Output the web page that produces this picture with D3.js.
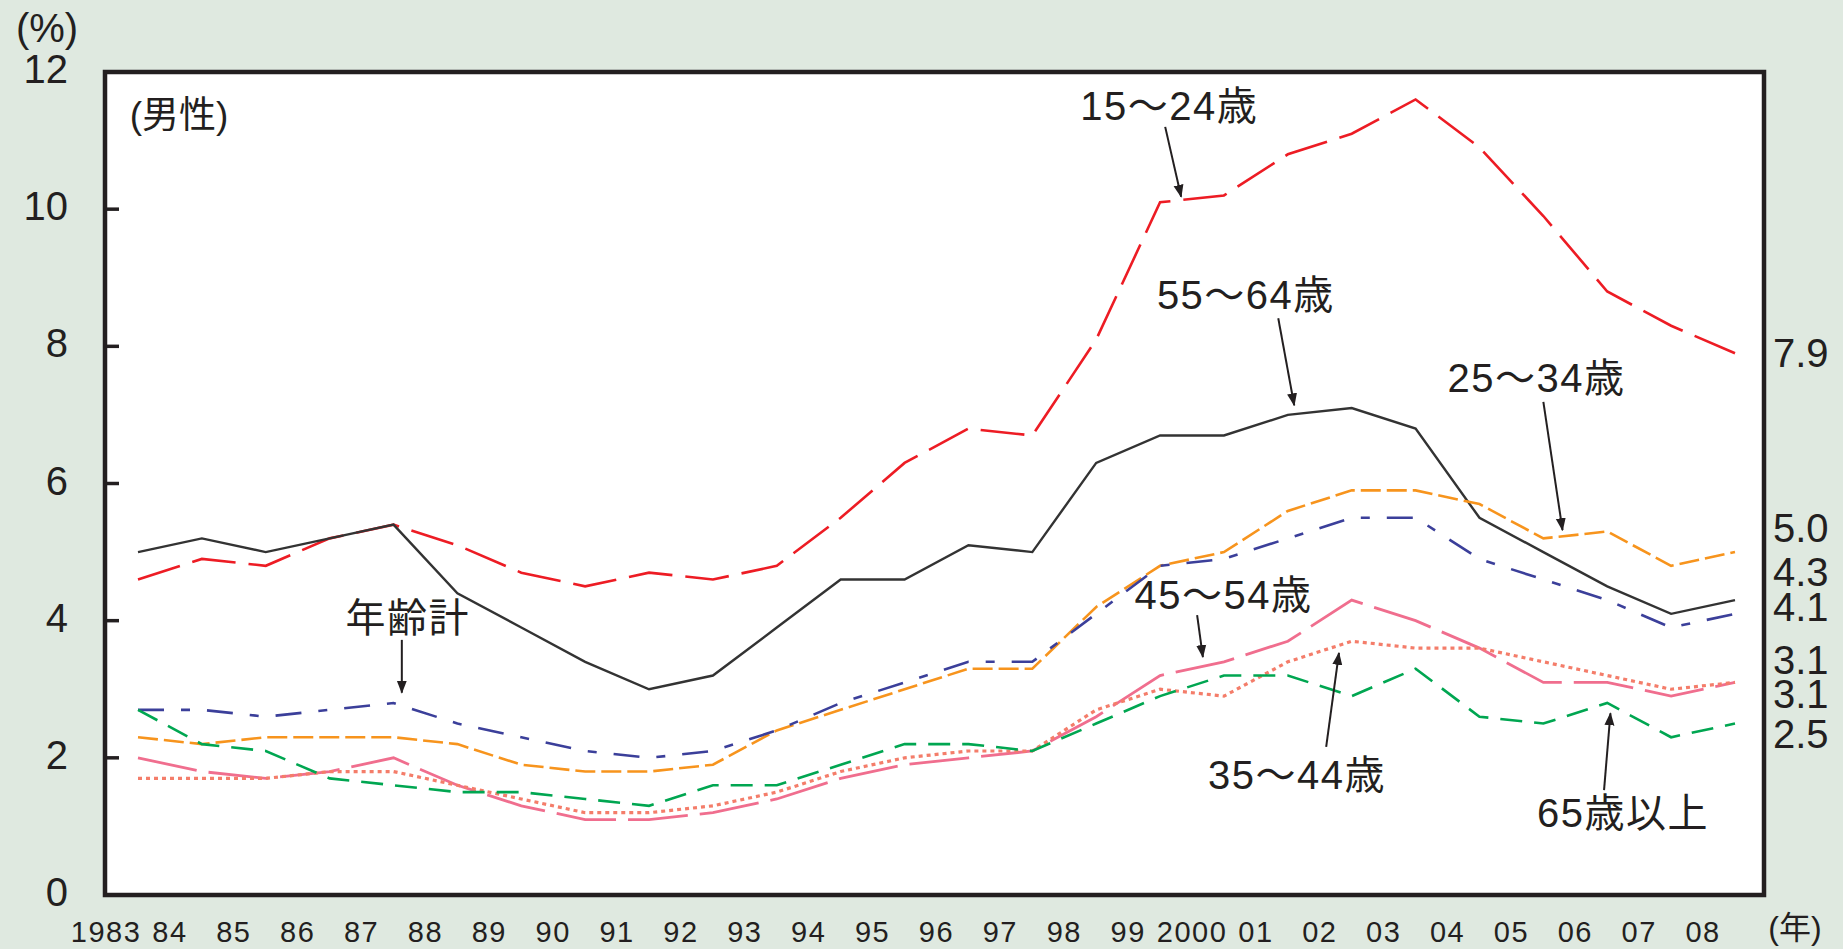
<!DOCTYPE html>
<html>
<head>
<meta charset="utf-8">
<script src="https://cdn.jsdelivr.net/npm/d3@7/dist/d3.min.js"></script>
<style>
    body { margin: 0; background: #dfe9e0; }
    svg { display: block; }
    text { font-family: "Liberation Sans", Arial, "Noto Sans CJK JP", sans-serif; fill: #231f20; }
</style>
</head>
<body>
<svg id="chart" width="1843" height="949"></svg>
<script>
// categories
const years = [1983, 1984, 1985, 1986, 1987, 1988, 1989, 1990, 1991, 1992, 1993, 1994, 1995,
    1996, 1997, 1998, 1999, 2000, 2001, 2002, 2003, 2004, 2005, 2006, 2007, 2008];
const yearLabels = ['1983', '84', '85', '86', '87', '88', '89', '90', '91', '92', '93', '94', '95',
    '96', '97', '98', '99', '2000', '01', '02', '03', '04', '05', '06', '07', '08'];
const yTicks = [0, 2, 4, 6, 8, 10, 12];

// male unemployment rate by age (%)
const age15to24 = [4.6, 4.9, 4.8, 5.2, 5.4, 5.1, 4.7, 4.5, 4.7, 4.6, 4.8, 5.5, 6.3,
    6.8, 6.7, 8.1, 10.1, 10.2, 10.8, 11.1, 11.6, 10.9, 9.9, 8.8, 8.3, 7.9];
const age25to34 = [2.3, 2.2, 2.3, 2.3, 2.3, 2.2, 1.9, 1.8, 1.8, 1.9, 2.4, 2.7, 3.0,
    3.3, 3.3, 4.2, 4.8, 5.0, 5.6, 5.9, 5.9, 5.7, 5.2, 5.3, 4.8, 5.0];
const age35to44 = [1.7, 1.7, 1.7, 1.8, 1.8, 1.6, 1.4, 1.2, 1.2, 1.3, 1.5, 1.8, 2.0,
    2.1, 2.1, 2.7, 3.0, 2.9, 3.4, 3.7, 3.6, 3.6, 3.4, 3.2, 3.0, 3.1];
const age45to54 = [2.0, 1.8, 1.7, 1.8, 2.0, 1.6, 1.3, 1.1, 1.1, 1.2, 1.4, 1.7, 1.9,
    2.0, 2.1, 2.6, 3.2, 3.4, 3.7, 4.3, 4.0, 3.6, 3.1, 3.1, 2.9, 3.1];
const age55to64 = [5.0, 5.2, 5.0, 5.2, 5.4, 4.4, 3.9, 3.4, 3.0, 3.2, 3.9, 4.6, 4.6,
    5.1, 5.0, 6.3, 6.7, 6.7, 7.0, 7.1, 6.8, 5.5, 5.0, 4.5, 4.1, 4.3];
const age65plus = [2.7, 2.2, 2.1, 1.7, 1.6, 1.5, 1.5, 1.4, 1.3, 1.6, 1.6, 1.9, 2.2,
    2.2, 2.1, 2.5, 2.9, 3.2, 3.2, 2.9, 3.3, 2.6, 2.5, 2.8, 2.3, 2.5];
const ageTotal = [2.7, 2.7, 2.6, 2.7, 2.8, 2.5, 2.3, 2.1, 2.0, 2.1, 2.4, 2.8, 3.1,
    3.4, 3.4, 4.1, 4.8, 4.9, 5.2, 5.5, 5.5, 4.9, 4.6, 4.3, 3.9, 4.1];

const series = [
    {values: age15to24, color: '#ed1c24', dash: '44 13', width: 2.6},
    {values: age55to64, color: '#333333', dash: null, width: 2.4},
    {values: age25to34, color: '#f7941d', dash: '20 6', width: 2.6},
    {values: ageTotal, color: '#3b3f9a', dash: '26 17 9 17', width: 2.6},
    {values: age45to54, color: '#f06e8e', dash: '60 12', width: 2.8},
    {values: age35to44, color: '#f47d6a', dash: '4 4', width: 3.2},
    {values: age65plus, color: '#00a651', dash: '22 12', width: 2.6}
];

// end-of-line value labels (nudged apart like the original)
const endLabels = [
    {values: age15to24, dy: 0},
    {values: age25to34, dy: -24},
    {values: age55to64, dy: -28},
    {values: ageTotal, dy: -7},
    {values: age45to54, dy: -22},
    {values: age35to44, dy: 12},
    {values: age65plus, dy: 10}
];

// callouts, in data coordinates [year, %]
const notes = [
    {text: '15～24歳', at: [1997.75, 11.5], from: [1999.08, 11.2], to: [1999.33, 10.18]},
    {text: '55～64歳', at: [1998.95, 8.75], from: [2000.85, 8.41], to: [2001.1, 7.14]},
    {text: '25～34歳', at: [2003.5, 7.54], from: [2005.0, 7.19], to: [2005.3, 5.32]},
    {text: '45～54歳', at: [1998.6, 4.37], from: [1999.58, 4.08], to: [1999.67, 3.47]},
    {text: '35～44歳', at: [1999.75, 1.75], from: [2001.6, 2.16], to: [2001.8, 3.53]},
    {text: '65歳以上', at: [2004.9, 1.2], from: [2005.95, 1.53], to: [2006.05, 2.65]},
    {text: '年齢計', at: [1986.25, 4.04], from: [1987.13, 3.72], to: [1987.13, 2.95]}
];

const box = {left: 105, top: 72, right: 1764, bottom: 895};

const x = d3.scaleLinear().domain([1983, 2008]).range([138, 1735]);
const y = d3.scaleLinear().domain([0, 12]).range([box.bottom, box.top]);

const svg = d3.select('#chart');

svg.append('defs').append('marker')
    .attr('id', 'arrow')
    .attr('markerUnits', 'userSpaceOnUse')
    .attr('viewBox', '0 -6 13 12')
    .attr('refX', 12)
    .attr('refY', 0)
    .attr('markerWidth', 13)
    .attr('markerHeight', 12)
    .attr('orient', 'auto')
    .append('path')
    .attr('d', 'M0,-5L13,0L0,5Z')
    .attr('fill', '#231f20');

// plot area
svg.append('rect')
    .attr('x', box.left)
    .attr('y', box.top)
    .attr('width', box.right - box.left)
    .attr('height', box.bottom - box.top)
    .attr('fill', '#fff');

// y ticks (inside) and labels
svg.append('g')
    .selectAll('line')
    .data(yTicks.filter(d => d > 0 && d < 12))
    .join('line')
    .attr('x1', box.left)
    .attr('x2', box.left + 14)
    .attr('y1', d => y(d))
    .attr('y2', d => y(d))
    .attr('stroke', '#231f20')
    .attr('stroke-width', 3.5);

svg.append('g')
    .selectAll('text')
    .data(yTicks)
    .join('text')
    .attr('x', 68)
    .attr('y', d => y(d) - 3)
    .attr('text-anchor', 'end')
    .attr('dominant-baseline', 'central')
    .attr('font-size', 40)
    .text(d => d);

svg.append('text')
    .attr('x', 47)
    .attr('y', 28)
    .attr('text-anchor', 'middle')
    .attr('dominant-baseline', 'central')
    .attr('font-size', 40)
    .text('(%)');

svg.append('text')
    .attr('x', x(1982.87))
    .attr('y', y(11.37))
    .attr('dominant-baseline', 'central')
    .attr('font-size', 37)
    .text('(男性)');

// x labels sit half a year left of the data points
svg.append('g')
    .selectAll('text')
    .data(years)
    .join('text')
    .attr('x', d => x(d - 0.5))
    .attr('y', 942)
    .attr('text-anchor', 'middle')
    .attr('font-size', 29)
    .attr('letter-spacing', 1.5)
    .text((d, i) => yearLabels[i]);

svg.append('text')
    .attr('x', 1795)
    .attr('y', 939)
    .attr('text-anchor', 'middle')
    .attr('font-size', 32)
    .text('(年)');

// lines
const line = d3.line()
    .x((d, i) => x(years[i]))
    .y(d => y(d));

svg.append('g')
    .selectAll('path')
    .data(series)
    .join('path')
    .attr('d', d => line(d.values))
    .attr('fill', 'none')
    .attr('stroke', d => d.color)
    .attr('stroke-width', d => d.width)
    .attr('stroke-dasharray', d => d.dash);

// frame on top
svg.append('rect')
    .attr('x', box.left)
    .attr('y', box.top)
    .attr('width', box.right - box.left)
    .attr('height', box.bottom - box.top)
    .attr('fill', 'none')
    .attr('stroke', '#231f20')
    .attr('stroke-width', 4.5);

// callouts
let noteG = svg.append('g');
noteG.selectAll('line')
    .data(notes)
    .join('line')
    .attr('x1', d => x(d.from[0]))
    .attr('y1', d => y(d.from[1]))
    .attr('x2', d => x(d.to[0]))
    .attr('y2', d => y(d.to[1]))
    .attr('stroke', '#231f20')
    .attr('stroke-width', 2)
    .attr('marker-end', 'url(#arrow)');

noteG.selectAll('text')
    .data(notes)
    .join('text')
    .attr('x', d => x(d.at[0]))
    .attr('y', d => y(d.at[1]))
    .attr('dominant-baseline', 'central')
    .attr('font-size', 40)
    .attr('letter-spacing', 1.5)
    .text(d => d.text);

// end values on the right
svg.append('g')
    .selectAll('text')
    .data(endLabels)
    .join('text')
    .attr('x', 1773)
    .attr('y', d => y(d.values[d.values.length - 1]) + d.dy)
    .attr('dominant-baseline', 'central')
    .attr('font-size', 40)
    .text(d => d3.format('.1f')(d.values[d.values.length - 1]));
</script>
</body>
</html>
